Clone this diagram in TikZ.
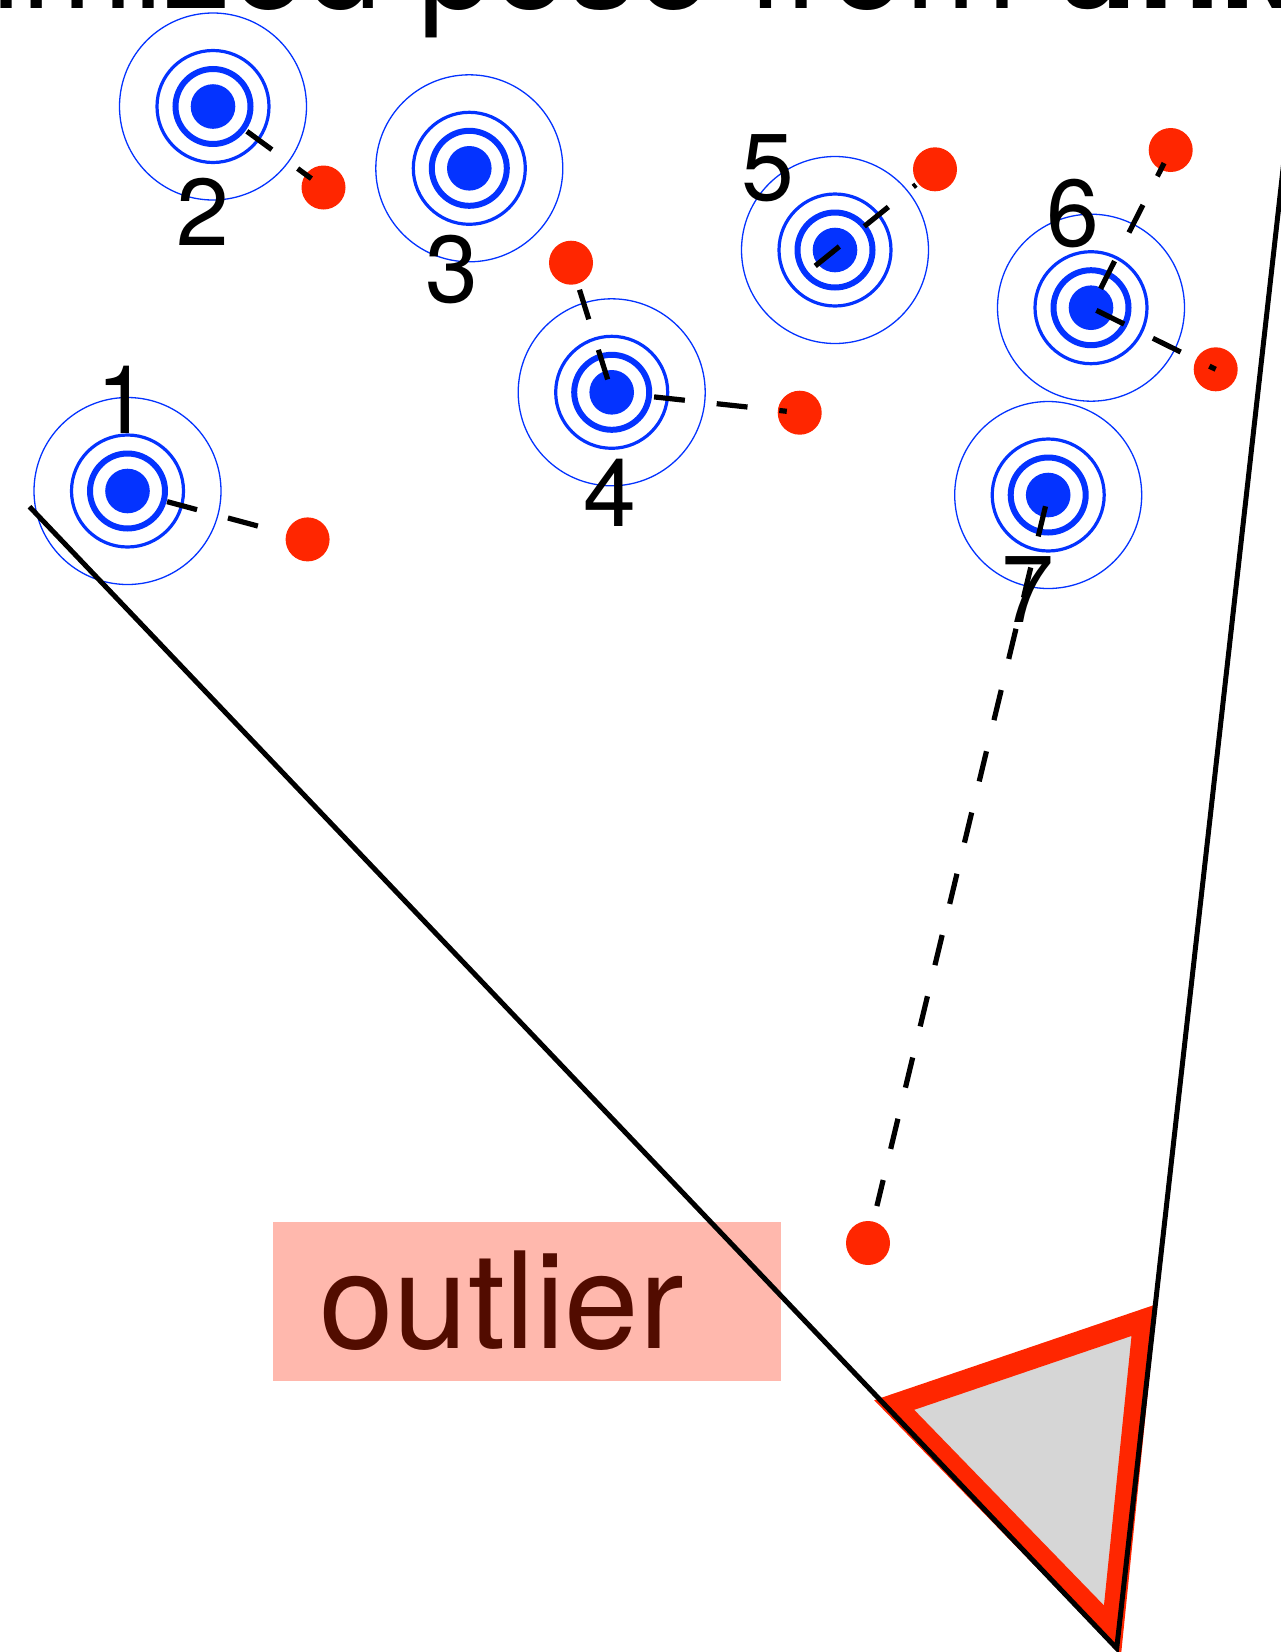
\documentclass[tikz,border=0pt]{standalone}
\usepackage{fontspec}
\setmainfont{TeX Gyre Heros}
\definecolor{tblue}{RGB}{4,51,255}
\definecolor{ored}{RGB}{255,38,0}
\definecolor{camgray}{RGB}{214,214,214}
\definecolor{boxpink}{RGB}{255,184,173}
\definecolor{boxtext}{RGB}{82,12,0}

\begin{document}
\begin{tikzpicture}[x=1pt, y=-1pt,
    tdot/.style={circle, fill=tblue, inner sep=0pt, minimum size=44.6pt},
    obs/.style={circle, fill=ored, inner sep=0pt, minimum size=44pt},
    link/.style={line width=5.2pt, dash pattern=on 31pt off 32pt},
    frustum/.style={line width=5pt, line join=miter},
    num/.style={anchor=base, inner sep=0pt, font=\fontsize{95}{95}\selectfont}]
        \useasboundingbox (0,0) rectangle (1281,1652);
        \clip (0,0) rectangle (1281,1652);
        % landmarks
        \foreach \n/\x/\y in {1/127.5/491, 2/213/106.5, 3/469.3/168.3, 4/611.7/392.3, 5/835/250, 6/1091/307.7, 7/1048.2/495} {
            \node[tdot] (t\n) at (\x,\y) {};
            \draw[tblue, line width=1.3pt] (t\n.center) circle[radius=93.5pt];
            \draw[tblue, line width=3.2pt] (t\n.center) circle[radius=56pt];
            \draw[tblue, line width=6pt] (t\n.center) circle[radius=37.5pt];
        }
        % observations
        \node[obs] (o1) at (307.6,539.4) {};
        \node[obs] (o2) at (323.5,187.5) {};
        \node[obs] (o4a) at (571,262.7) {};
        \node[obs] (o4b) at (799.7,412.7) {};
        \node[obs] (o5) at (935,169.3) {};
        \node[obs] (o6a) at (1170.7,150) {};
        \node[obs] (o6b) at (1215.7,369.3) {};
        \node[obs] (o7) at (868,1243) {};
        % outlier label
        \node[fill=boxpink, inner sep=0pt, minimum width=508pt, minimum height=159pt, anchor=north west] (outlierbox) at (273,1222) {};
        \node[anchor=base west, inner sep=0pt, text=boxtext, font=\fontsize{134}{134}\selectfont] (outlier) at (319,1348) {outlier};
        % camera
        \coordinate (camL) at (894.2,1405);
        \coordinate (camR) at (1144.2,1320);
        \coordinate (camB) at (1112.5,1630);
        \draw[ored, fill=camgray, line width=22pt] (camL) -- (camR) -- (camB) -- cycle;
        \coordinate (apex) at (1116.7,1648.3);
        \coordinate (fl) at (29.5,506.7);
        \coordinate (fr) at (1290,107);
        \draw[frustum] (fl) -- (apex) -- (fr);
        % residuals
        \draw[link, shorten <=41pt, shorten >=22pt] (t1.center) -- (o1.center);
        \draw[link, shorten <=42pt, shorten >=15pt] (t2.center) -- (o2.center);
        \draw[link, shorten <=13.5pt] (t4.center) -- (o4a.center);
        \draw[link, shorten <=42.6pt, shorten >=13pt] (t4.center) -- (o4b.center);
        \draw[link, shorten <=-25.4pt, shorten >=24.5pt] (t5.center) -- (o5.center);
        \draw[link, shorten <=21.2pt, shorten >=14.7pt] (t6.center) -- (o6a.center);
        \draw[link, shorten <=6pt] (t6.center) -- (o6b.center);
        \draw[link, shorten <=11.6pt, shorten >=38pt] (t7.center) -- (o7.center);
        % ids
        \node[num] (n1) at (123,433) {1};
        \node[num] (n2) at (203,245) {2};
        \node[num] (n3) at (451.7,302) {3};
        \node[num] (n4) at (609.7,526) {4};
        \node[num] (n5) at (767.5,200) {5};
        \node[num] (n6) at (1073,246) {6};
        \node[num] (n7) at (1028,622) {7};
        \node[anchor=base west, inner sep=0pt, font=\fontsize{135}{135}\selectfont] (title) at (-9,8) {imized pose from \textbf{unk}};
\end{tikzpicture}
\end{document}
